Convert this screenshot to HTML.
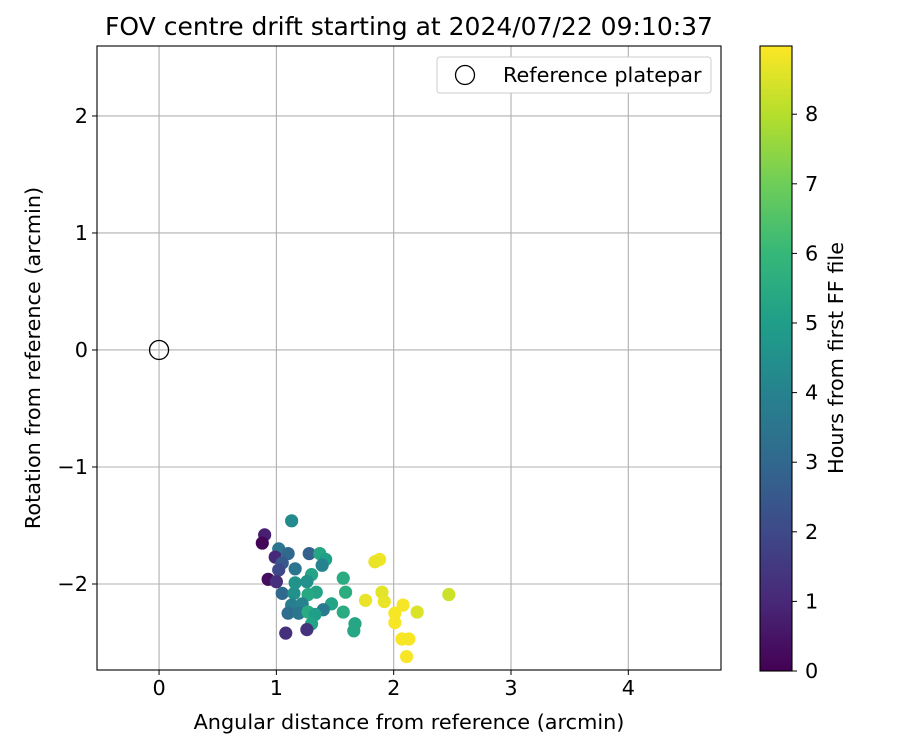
<!DOCTYPE html>
<html><head><meta charset="utf-8"><style>
body{margin:0;background:#fff;}
svg{display:block;font-family:"DejaVu Sans","Liberation Sans",sans-serif;}
</style></head><body>
<svg id="c" width="900" height="750" xmlns="http://www.w3.org/2000/svg"></svg>
<script>
const xVals=[1.13,0.90,0.88,1.02,1.10,0.99,1.28,1.37,1.42,1.39,1.05,1.02,1.16,0.93,1.00,1.30,1.26,1.16,1.57,1.05,1.15,1.34,1.27,1.59,1.76,1.90,1.92,1.13,1.22,1.47,1.10,1.19,1.27,1.40,1.57,1.33,1.30,1.67,1.66,1.08,1.26,1.88,1.84,2.08,2.01,2.20,2.01,2.07,2.13,2.11,2.47];
const yVals=[-1.46,-1.58,-1.65,-1.70,-1.74,-1.77,-1.74,-1.74,-1.79,-1.84,-1.82,-1.88,-1.87,-1.96,-1.98,-1.92,-1.98,-1.99,-1.95,-2.08,-2.08,-2.07,-2.09,-2.07,-2.14,-2.07,-2.15,-2.18,-2.17,-2.17,-2.25,-2.25,-2.24,-2.22,-2.24,-2.26,-2.34,-2.34,-2.40,-2.42,-2.39,-1.79,-1.81,-2.18,-2.25,-2.24,-2.33,-2.47,-2.47,-2.62,-2.09];
const hours=[4.3,0.8,0.1,3.5,3.0,1.0,2.8,5.3,5.0,4.0,2.5,2.0,3.5,0.3,1.2,5.2,4.5,4.6,5.5,3.0,4.5,5.2,5.4,5.6,8.7,8.6,8.7,3.8,4.0,5.2,3.2,3.5,5.5,3.7,5.5,5.0,5.2,5.3,5.3,1.2,1.3,8.8,8.7,8.9,8.9,8.5,8.9,8.9,8.9,8.9,8.3];
const xTicks=[0,1,2,3,4];
const yTicks=[-2,-1,0,1,2];
const cTicks=[0,1,2,3,4,5,6,7,8];
const refPoint=[0,0];

const L=97,R=721,T=46,B=670;
const xMin=-0.529,xMax=4.79,yMin=-2.735,yMax=2.598;
const X=v=>L+(v-xMin)/(xMax-xMin)*(R-L);
const Y=v=>B-(v-yMin)/(yMax-yMin)*(B-T);
const cMax=8.98;
const CL=760,CR=792,CT=46,CB=671;
const CY=v=>CB-v/cMax*(CB-CT);
const vir=[[68,1,84],[72,40,120],[62,73,137],[49,104,142],[38,130,142],[31,158,137],[53,183,121],[109,205,89],[180,222,44],[253,231,37]];
function col(h){let t=Math.max(0,Math.min(1,h/cMax))*(vir.length-1);let i=Math.min(Math.floor(t),vir.length-2),f=t-i;
 const c=vir[i].map((a,k)=>Math.round(a+(vir[i+1][k]-a)*f));return `rgb(${c})`;}
const svg=document.getElementById('c');const NS='http://www.w3.org/2000/svg';
function mk(tag,attrs,parent,text){const e=document.createElementNS(NS,tag);for(const k in attrs)e.setAttribute(k,attrs[k]);if(text!==undefined)e.textContent=text;(parent||svg).appendChild(e);return e;}
const defs=mk('defs',{});const g=mk('linearGradient',{id:'vg',x1:0,y1:1,x2:0,y2:0},defs);
vir.forEach((c,i)=>mk('stop',{offset:i/(vir.length-1),'stop-color':`rgb(${c})`},g));
const title=mk('text',{x:409,y:35,'text-anchor':'middle','font-size':'25'},svg,'FOV centre drift starting at 2024/07/22 09:10:37');


const grid=mk('g',{stroke:'#b0b0b0','stroke-width':1.1});


xTicks.forEach(t=>mk('line',{x1:X(t),x2:X(t),y1:T,y2:B},grid));
yTicks.forEach(t=>mk('line',{x1:L,x2:R,y1:Y(t),y2:Y(t)},grid));
const xa=mk('g',{'font-size':'20.8'});


xTicks.forEach(t=>{mk('line',{x1:X(t),x2:X(t),y1:B,y2:B+5,stroke:'#000'},xa);mk('text',{x:X(t),y:B+25,'text-anchor':'middle'},xa,String(t));});
const ya=mk('g',{'font-size':'20.8'});


yTicks.forEach(t=>{mk('line',{x1:L-5,x2:L,y1:Y(t),y2:Y(t),stroke:'#000'},ya);mk('text',{x:L-9,y:Y(t)+7,'text-anchor':'end'},ya,t<0?'\u2212'+(-t):String(t));});
const xt=mk('text',{x:409,y:729,'text-anchor':'middle','font-size':'20.8'},svg,'Angular distance from reference (arcmin)');


const yt=mk('text',{x:40,y:358,'text-anchor':'middle','font-size':'20.8',transform:'rotate(-90 40 358)'},svg,'Rotation from reference (arcmin)');


const pts=mk('g',{});


xVals.forEach((v,i)=>{const c=mk('circle',{cx:X(v),cy:Y(yVals[i]),r:6.6,fill:col(hours[i])},pts);

});
const ref=mk('circle',{cx:X(refPoint[0]),cy:Y(refPoint[1]),r:9.5,fill:'none',stroke:'#000','stroke-width':1.3});


const fr=mk('rect',{x:L,y:T,width:R-L,height:B-T,fill:'none',stroke:'#000','stroke-width':1.1});


const lg=mk('g',{});


mk('rect',{x:437,y:57,width:274,height:36,rx:3,fill:'#fff',stroke:'#ccc'},lg);
mk('circle',{cx:465,cy:75,r:9.5,fill:'none',stroke:'#000','stroke-width':1.3},lg);
mk('text',{x:503,y:82,'font-size':'20.8'},lg,'Reference platepar');
const cb=mk('g',{});


mk('rect',{x:CL,y:CT,width:CR-CL,height:CB-CT,fill:'url(#vg)',stroke:'#000','stroke-width':1.1},cb);
cTicks.forEach(t=>{mk('line',{x1:CR,x2:CR+5,y1:CY(t),y2:CY(t),stroke:'#000'},cb);mk('text',{x:CR+13,y:CY(t)+7,'font-size':'20.8'},cb,String(t));});
const ct=mk('text',{x:843,y:358,'text-anchor':'middle','font-size':'20.8',transform:'rotate(-90 843 358)'},svg,'Hours from first FF file');


</script>
</body></html>
